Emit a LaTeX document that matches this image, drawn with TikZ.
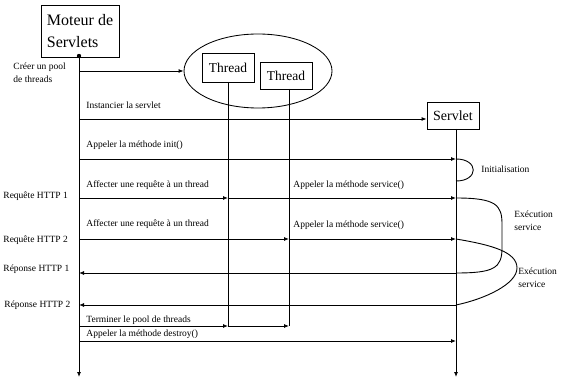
\documentclass[tikz,border=0pt]{standalone}
\usepackage{fontspec}
\setmainfont{Liberation Serif}
\usetikzlibrary{arrows.meta,shapes.geometric}
\begin{document}
\begin{tikzpicture}[x=1pt,y=-1pt,line width=0.85pt,
  msg/.style={-{Latex[length=5pt,width=4pt]}},
  lbl/.style={font=\fontsize{9.5}{13}\selectfont,inner sep=0pt},
  actor/.style={draw,rectangle,inner sep=0pt},
  curve/.style={line width=0.9pt}]
\useasboundingbox (0,0) rectangle (562,379);

% participants
\node[actor,minimum width=78pt,minimum height=52pt,align=left,
      font=\fontsize{16}{22}\selectfont] (moteur) at (80,31) {Moteur de\\Servlets};
\node[draw,ellipse,minimum width=148pt,minimum height=74pt] (pool) at (258,71) {};
\node[actor,minimum width=52pt,minimum height=29pt,
      font=\fontsize{13.5}{15}\selectfont] (t1) at (228,67.5) {Thread};
\node[actor,minimum width=52pt,minimum height=27pt,
      font=\fontsize{13.5}{15}\selectfont] (t2) at (286,75.5) {Thread};
\node[actor,minimum width=52pt,minimum height=27pt,
      font=\fontsize{14}{16}\selectfont] (servlet) at (453,115.5) {Servlet};

% lifelines
\coordinate (mTop) at (79,56);
\coordinate (mBot) at (79,377);
\coordinate (t1Top) at (228,82);
\coordinate (t2Top) at (289,89);
\coordinate (sTop) at (456,129);
\coordinate (sBot) at (456,377);
\fill (mTop) circle (2.2pt);
\draw[msg] (mTop) -- (mBot);
\draw[msg] (sTop) -- (sBot);

% message rows on the engine lifeline
\coordinate (mCreate) at (79,71);
\coordinate (mInst) at (79,119);
\coordinate (mInit) at (79,159);
\coordinate (mReq1) at (79,198);
\coordinate (mReq2) at (79,239);
\coordinate (mRep1) at (79,273);
\coordinate (mRep2) at (79,305);
\coordinate (mTerm) at (79,326);
\coordinate (mDest) at (79,341);

% thread lifelines end at the pool shutdown
\draw (t1Top) -- (t1Top |- mTerm);
\draw (t2Top) -- (t2Top |- mTerm);

% messages
\draw[msg] (mCreate) -- (pool.west);
\draw[msg] (mInst) -- (mInst -| servlet.west);
\draw[msg] (mInit) -- (mInit -| sTop);
\draw[msg] (mReq1) -- (mReq1 -| t1Top);
\draw[msg] (mReq1 -| t1Top) -- (mReq1 -| sTop);
\draw[msg] (mReq2) -- (mReq2 -| t2Top);
\draw[msg] (mReq2 -| t2Top) -- (mReq2 -| sTop);
\draw[msg] (mRep1 -| sTop) -- (mRep1);
\draw[msg] (mRep2 -| sTop) -- (mRep2);
\draw[msg] (mTerm) -- (mTerm -| t1Top);
\draw[msg] (mTerm -| t1Top) -- (mTerm -| t2Top);
\draw[msg] (mDest) -- (mDest -| sTop);

% activity brackets on the servlet lifeline
\draw[curve] (456,159) .. controls (479,159) and (479,181) .. (456,181);
\draw[curve] (456,198) .. controls (496,198) and (502,205) .. (502,224)
  -- (502,248) .. controls (502,268) and (494,273) .. (456,273);
\draw[curve] (456,239) .. controls (492,245) and (517,252) .. (517,268)
  .. controls (517,284) and (485,299) .. (456,305);

% labels
\node[lbl,anchor=west,align=left] (lCreate) at (13,73) {Créer un pool\\de threads};
\node[lbl,anchor=base west] (lInst) at (86,109) {Instancier la servlet};
\node[lbl,anchor=base west] (lInit) at (86,148) {Appeler la méthode init()};
\node[lbl,anchor=base west] (lAff1) at (86,188) {Affecter une requête à un thread};
\node[lbl,anchor=base west] (lSrv1) at (293,188) {Appeler la méthode service()};
\node[lbl,anchor=base west] (lAff2) at (86,227) {Affecter une requête à un thread};
\node[lbl,anchor=base west] (lSrv2) at (293,228) {Appeler la méthode service()};
\node[lbl,anchor=base west] (lTerm) at (86,322) {Terminer le pool de threads};
\node[lbl,anchor=base west] (lDest) at (86,336) {Appeler la méthode destroy()};

\node[lbl,anchor=west] (lReq1) at (3,196) {Requête HTTP 1};
\node[lbl,anchor=west] (lReq2) at (3,240) {Requête HTTP 2};
\node[lbl,anchor=west] (lRep1) at (3,269) {Réponse HTTP 1};
\node[lbl,anchor=west] (lRep2) at (4,305) {Réponse HTTP 2};

\node[lbl,anchor=west] (lIni) at (481,169) {Initialisation};
\node[lbl,anchor=west,align=left] (lEx1) at (514,221) {Exécution\\service};
\node[lbl,anchor=west,align=left] (lEx2) at (518,278) {Exécution\\service};
\end{tikzpicture}
\end{document}
